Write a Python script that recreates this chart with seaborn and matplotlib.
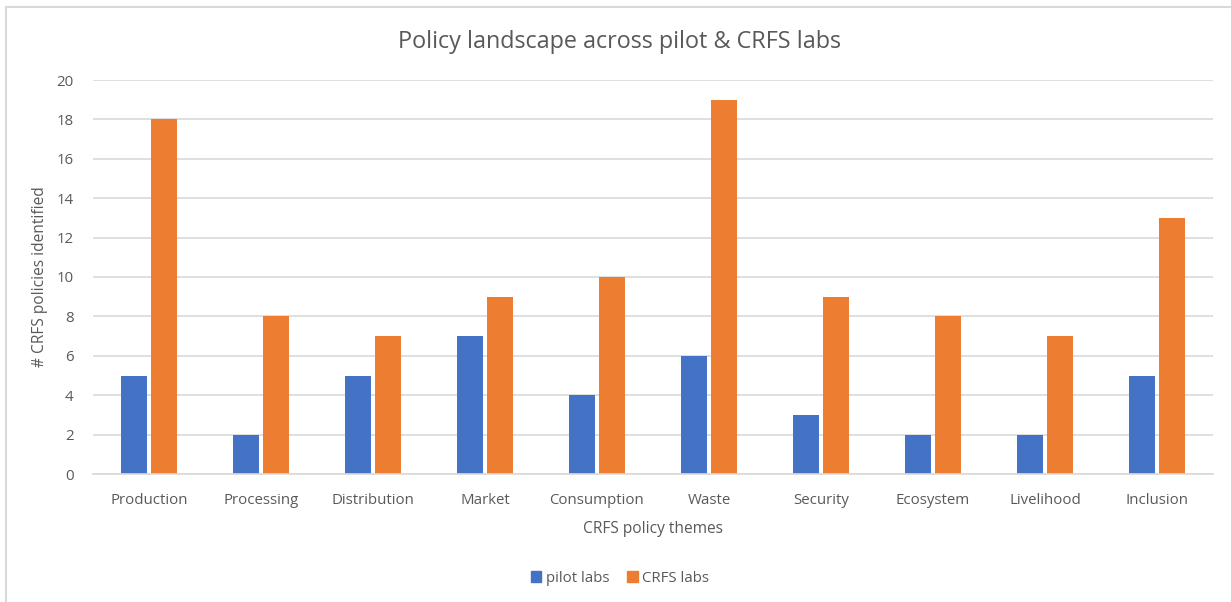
import matplotlib
matplotlib.use("Agg")
import matplotlib.pyplot as plt
from matplotlib.patches import Rectangle
from matplotlib.lines import Line2D
import seaborn as sns
import pandas as pd

categories = ["Production", "Processing", "Distribution", "Market", "Consumption",
              "Waste", "Security", "Ecosystem", "Livelihood", "Inclusion"]
pilot_labs = [5, 2, 5, 7, 4, 6, 3, 2, 2, 5]
crfs_labs = [18, 8, 7, 9, 10, 19, 9, 8, 7, 13]
series_names = ["pilot labs", "CRFS labs"]
yticks = [0, 2, 4, 6, 8, 10, 12, 14, 16, 18, 20]

df = pd.DataFrame({
    "theme": categories * 2,
    "value": pilot_labs + crfs_labs,
    "series": [series_names[0]] * len(categories) + [series_names[1]] * len(categories),
})

sns.set_theme(style="white")
plt.rcParams["font.family"] = ["Open Sans", "DejaVu Sans"]
text_color = "#595959"

fig = plt.figure(figsize=(12.31, 6.02), dpi=100)
ax = fig.add_axes([93 / 1231, 1 - 474 / 602, (1213 - 93) / 1231, (474 - 80) / 602])

sns.barplot(data=df, x="theme", y="value", hue="series", order=categories,
            hue_order=series_names, palette=["#4472C4", "#ED7D31"],
            width=0.53, gap=0.12, ax=ax, legend=False, saturation=1, linewidth=0)

ax.set_ylim(0, 20)
ax.set_xlim(-0.5, len(categories) - 0.5)
ax.set_yticks(yticks)
ax.set_yticklabels([str(t) for t in yticks])
ax.yaxis.grid(True, color="#D9D9D9", linewidth=1.2)
ax.set_axisbelow(True)
for s in ["top", "right", "left"]:
    ax.spines[s].set_visible(False)
ax.spines["bottom"].set_color("#D9D9D9")
ax.spines["bottom"].set_linewidth(1.2)
ax.tick_params(axis="both", length=0, colors=text_color, labelsize=10.8)
ax.tick_params(axis="y", pad=14)
ax.tick_params(axis="x", pad=14)

ax.set_xlabel("CRFS policy themes", color=text_color, fontsize=11.2, labelpad=9)
ax.set_ylabel("# CRFS policies identified", color=text_color, fontsize=11.2, labelpad=6)

fig.text(620 / 1231, 1 - 42 / 602, "Policy landscape across pilot & CRFS labs",
         ha="center", va="center", color=text_color, fontsize=16.8)

handles = [Rectangle((0, 0), 1, 1, color="#4472C4"), Rectangle((0, 0), 1, 1, color="#ED7D31")]
fig.legend(handles, series_names, loc="center", bbox_to_anchor=(620 / 1231, 1 - 578 / 602),
           ncol=2, frameon=False, fontsize=10.8, labelcolor=text_color,
           handlelength=0.7, handleheight=0.7, handletextpad=0.3, columnspacing=1.2)

fig.add_artist(Line2D([6 / 1231, 6 / 1231], [0, 1 - 7 / 602], transform=fig.transFigure,
                      color="#D9D9D9", linewidth=1.5))
fig.add_artist(Line2D([6 / 1231, 1], [1 - 7 / 602, 1 - 7 / 602], transform=fig.transFigure,
                      color="#D9D9D9", linewidth=1.5))

fig.savefig("out.png", dpi=100)
